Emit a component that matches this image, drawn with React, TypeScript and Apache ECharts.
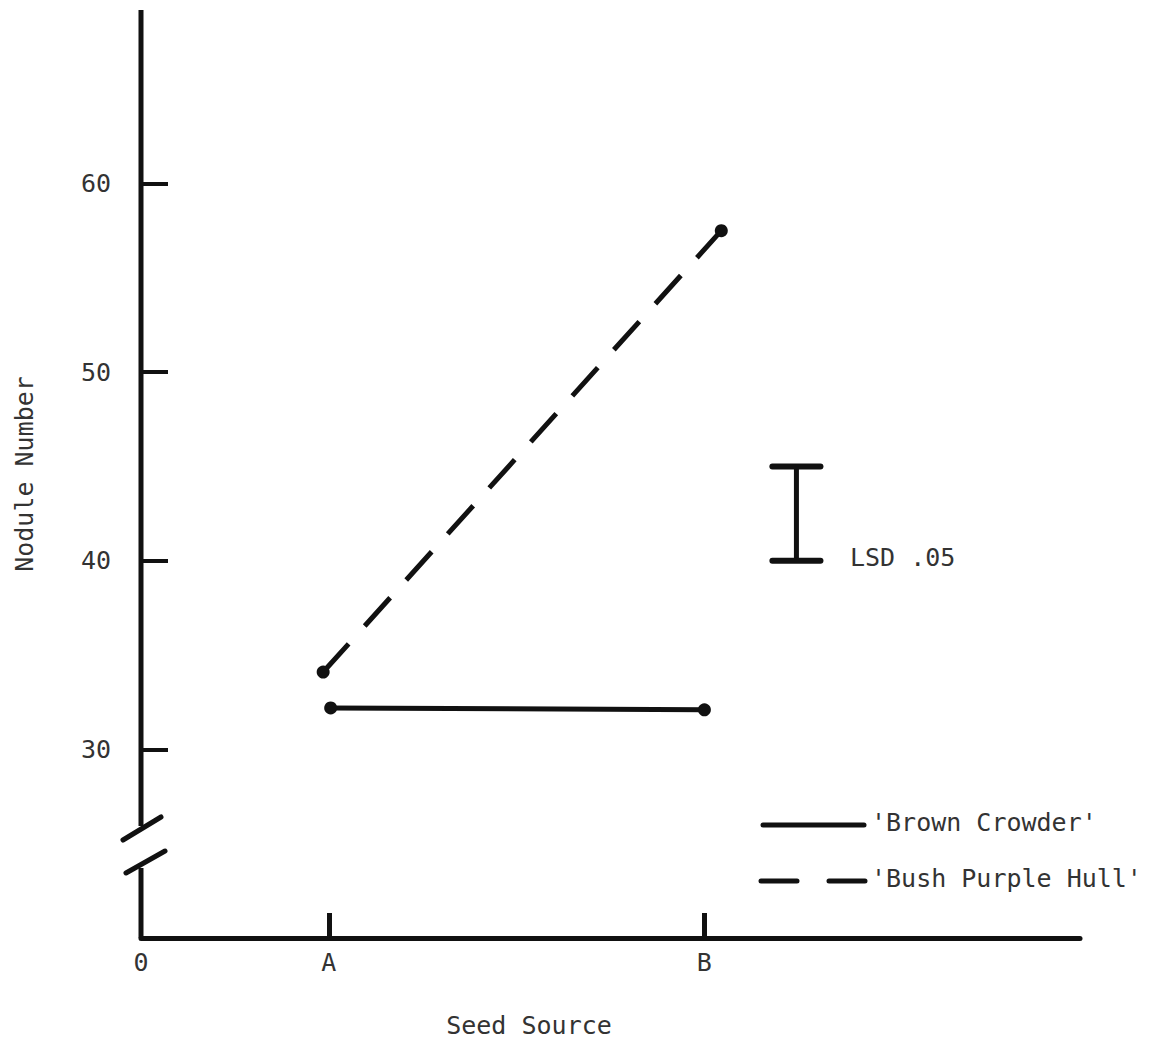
import React, { useEffect, useRef } from 'react';
import * as echarts from 'echarts';

// ---- data ----
const seedSources = ['A', 'B'];
const sourcePositions = [1, 3];
const originLabel = '0';
const yTicks = [30, 40, 50, 60];
const seriesNames = ["'Brown Crowder'", "'Bush Purple Hull'"];
const brownCrowderX = [1.01, 3.0];
const brownCrowder = [32.2, 32.1];
const bushPurpleHullX = [0.97, 3.09];
const bushPurpleHull = [34.1, 57.5];
const lsdX = 3.49;
const lsdLow = 40;
const lsdHigh = 45;
const lsdCapHalf = 0.128;
const lsdLabel = 'LSD .05';

const FONT = 'DejaVu Sans Mono';
const INK = '#111';
const TXT = '#333';

export default function App() {
  const ref = useRef<HTMLDivElement>(null);
  useEffect(() => {
    if (!ref.current) return;
    const chart = echarts.init(ref.current, undefined, { renderer: 'svg' });
    const option: any = {
      animation: false,
      backgroundColor: '#fff',
      grid: { left: 141, top: 10, width: 939, height: 928, containLabel: false },
      xAxis: {
        type: 'value',
        min: 0,
        max: 5,
        axisLine: { show: true, lineStyle: { color: INK, width: 5 } },
        axisTick: { show: true, inside: true, length: 25, customValues: sourcePositions, lineStyle: { color: INK, width: 5 } },
        axisLabel: {
          customValues: [0, ...sourcePositions],
          formatter: (v: number) => (v === 0 ? originLabel : seedSources[sourcePositions.indexOf(v)]),
          fontFamily: FONT,
          fontSize: 25,
          color: TXT,
          margin: 12,
        },
        splitLine: { show: false },
      },
      yAxis: {
        type: 'value',
        min: 20,
        max: 69.2,
        axisLine: { show: false },
        axisTick: { show: true, inside: true, length: 27, customValues: yTicks, lineStyle: { color: INK, width: 4 } },
        axisLabel: { customValues: yTicks, fontFamily: FONT, fontSize: 25, color: TXT, margin: 30 },
        splitLine: { show: false },
        name: 'Nodule Number',
        nameLocation: 'middle',
        nameGap: 104,
        nameTextStyle: { fontFamily: FONT, fontSize: 25, color: TXT },
      },
      series: [
        {
          name: seriesNames[0],
          type: 'line',
          data: brownCrowderX.map((x, i) => [x, brownCrowder[i]]),
          symbol: 'circle',
          symbolSize: 13,
          lineStyle: { color: INK, width: 5 },
          itemStyle: { color: INK },
        },
        {
          name: seriesNames[1],
          type: 'line',
          data: bushPurpleHullX.map((x, i) => [x, bushPurpleHull[i]]),
          symbol: 'circle',
          symbolSize: 13,
          lineStyle: { color: INK, width: 5, type: [38, 24] },
          itemStyle: { color: INK },
        },
        {
          name: 'lsd',
          type: 'line',
          data: [[lsdX, lsdLow], [lsdX, lsdHigh]],
          symbol: 'none',
          lineStyle: { color: INK, width: 5 },
        },
        {
          name: 'lsdTop',
          type: 'line',
          data: [[lsdX - lsdCapHalf, lsdHigh], [lsdX + lsdCapHalf, lsdHigh]],
          symbol: 'none',
          lineStyle: { color: INK, width: 6, cap: 'round' },
        },
        {
          name: 'lsdBottom',
          type: 'line',
          data: [[lsdX - lsdCapHalf, lsdLow], [lsdX + lsdCapHalf, lsdLow]],
          symbol: 'none',
          lineStyle: { color: INK, width: 6, cap: 'round' },
        },
      ],
      graphic: [
        // broken y axis
        { type: 'line', shape: { x1: 141, y1: 10, x2: 141, y2: 826 }, style: { stroke: INK, lineWidth: 5 } },
        { type: 'line', shape: { x1: 141, y1: 868, x2: 141, y2: 938 }, style: { stroke: INK, lineWidth: 5 } },
        { type: 'line', shape: { x1: 123, y1: 840, x2: 161, y2: 817 }, style: { stroke: INK, lineWidth: 5, lineCap: 'round' } },
        { type: 'line', shape: { x1: 126, y1: 873, x2: 165, y2: 851 }, style: { stroke: INK, lineWidth: 5, lineCap: 'round' } },
        // LSD label
        { type: 'text', x: 850, y: 557, style: { text: lsdLabel, fontFamily: FONT, fontSize: 25, fill: TXT, verticalAlign: 'middle', align: 'left' } },
        // legend
        { type: 'line', shape: { x1: 763, y1: 825, x2: 864, y2: 825 }, style: { stroke: INK, lineWidth: 5, lineCap: 'round' } },
        { type: 'text', x: 871, y: 822, style: { text: seriesNames[0], fontFamily: FONT, fontSize: 25, fill: TXT, verticalAlign: 'middle', align: 'left' } },
        { type: 'line', shape: { x1: 761, y1: 881, x2: 865, y2: 881 }, style: { stroke: INK, lineWidth: 5, lineCap: 'round', lineDash: [36, 32] } },
        { type: 'text', x: 871, y: 878, style: { text: seriesNames[1], fontFamily: FONT, fontSize: 25, fill: TXT, verticalAlign: 'middle', align: 'left' } },
        // x axis title
        { type: 'text', x: 529, y: 1025, style: { text: 'Seed Source', fontFamily: FONT, fontSize: 25, fill: TXT, verticalAlign: 'middle', align: 'center' } },
      ],
    };
    chart.setOption(option);
    return () => chart.dispose();
  }, []);
  return (
    <div
      ref={ref}
      style={{ position: 'fixed', left: 0, top: 0, width: 1158, height: 1043, background: '#fff' }}
    />
  );
}
